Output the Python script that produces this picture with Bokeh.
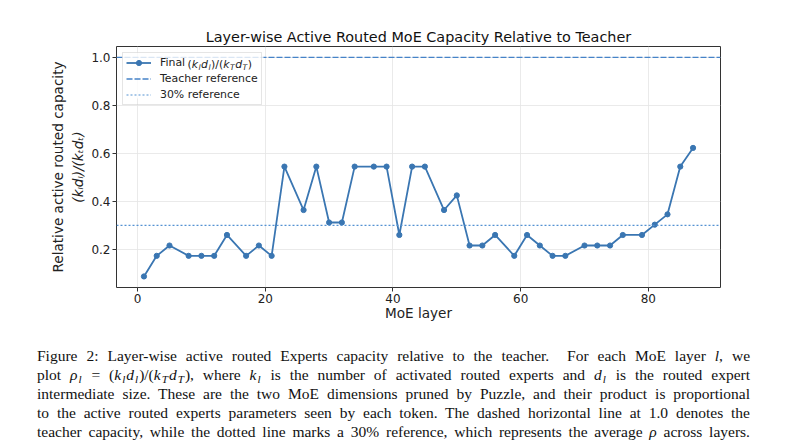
import math
from bokeh.plotting import figure
from bokeh.models import (Range1d, FixedTicker, PrintfTickFormatter, Span, Legend,
                          LegendItem, Label, Div, Title, BoxAnnotation)
from bokeh.layouts import column
from bokeh.embed import file_html
from bokeh.resources import INLINE

# MoE layer indices and the routed-capacity ratio (k_l d_l)/(k_T d_T) per layer
layers = [1, 3, 5, 8, 10, 12, 14, 17, 19, 21, 23, 26, 28, 30, 32, 34, 37, 39, 41, 43,
          45, 48, 50, 52, 54, 56, 59, 61, 63, 65, 67, 70, 72, 74, 76, 79, 81, 83, 85, 87]
ratios = [0.087, 0.173, 0.216, 0.173, 0.173, 0.173, 0.260, 0.173, 0.216, 0.173,
          0.545, 0.364, 0.545, 0.312, 0.312, 0.545, 0.545, 0.545, 0.260, 0.545,
          0.545, 0.364, 0.425, 0.216, 0.216, 0.260, 0.173, 0.260, 0.216, 0.173,
          0.173, 0.216, 0.216, 0.216, 0.260, 0.260, 0.303, 0.346, 0.545, 0.623]
teacher_ref = 1.0
pct30_ref = 0.3
x_ticks = [0, 20, 40, 60, 80]
y_ticks = [0.2, 0.4, 0.6, 0.8, 1.0]

TITLE = "Layer-wise Active Routed MoE Capacity Relative to Teacher"
XLABEL = "MoE layer"
YLABEL = "Relative active routed capacity"
YLABEL_MATH = "(kₗdₗ)/(kₜdₜ)"

LINE_C = "#3a76b2"
TEACH_C = "#4683c8"
DOT_C = "#5592d2"
FONT = "DejaVu Sans"

FW, FH = 604, 241  # frame size in px
xr = Range1d(-3.3, 91.3)
yr = Range1d(0.041, 1.0457)

p = figure(width=800, height=335, output_backend="svg", toolbar_location=None,
           x_range=xr, y_range=yr,
           min_border_left=116, min_border_right=80, min_border_top=46,
           min_border_bottom=48)
p.background_fill_color = "white"
p.border_fill_color = "white"
p.outline_line_color = "#333333"
p.outline_line_width = 1

p.title.text = TITLE
p.title.align = "center"
p.title.text_font = FONT
p.title.text_font_size = "14.4px"
p.title.text_font_style = "normal"
p.title.text_color = "#111111"
p.title.standoff = 4

for ax in (p.xaxis[0], p.yaxis[0]):
    ax.axis_line_color = None
    ax.major_tick_line_color = "#333333"
    ax.major_tick_out = 4
    ax.major_tick_in = 0
    ax.minor_tick_line_color = None
    ax.major_label_text_font = FONT
    ax.major_label_text_font_size = "12px"
    ax.major_label_text_color = "#222222"

p.xaxis.ticker = FixedTicker(ticks=x_ticks)
p.yaxis.ticker = FixedTicker(ticks=y_ticks)
p.yaxis.formatter = PrintfTickFormatter(format="%.1f")
p.xaxis.major_label_standoff = 2
p.yaxis.major_label_standoff = 2
p.xaxis.axis_label = XLABEL
p.xaxis.axis_label_text_font = FONT
p.xaxis.axis_label_text_font_size = "13.6px"
p.xaxis.axis_label_text_font_style = "normal"
p.xaxis.axis_label_text_color = "#222222"
p.xaxis.axis_label_standoff = -1

# two-line y label: math line next to the axis, text line outside it
p.add_layout(Title(text=YLABEL_MATH, align="center", text_font=FONT,
                   text_font_size="13.6px", text_font_style="italic",
                   text_color="#222222", standoff=5), "left")
p.add_layout(Title(text=YLABEL, align="center", text_font=FONT,
                   text_font_size="13.6px", text_font_style="normal",
                   text_color="#222222", standoff=0), "left")

p.xgrid.ticker = FixedTicker(ticks=x_ticks)
p.ygrid.ticker = FixedTicker(ticks=y_ticks)
for g in (p.xgrid[0], p.ygrid[0]):
    g.grid_line_color = "#e4e4e4"
    g.grid_line_width = 0.8

DASH = "6 2"
DOT = "2 2"

# reference lines
p.add_layout(Span(location=teacher_ref, dimension="width", line_color=TEACH_C,
                  line_width=1.3, line_dash=DASH))
p.add_layout(Span(location=pct30_ref, dimension="width", line_color=DOT_C,
                  line_width=1.2, line_dash=DOT))

# per-layer ratio
r_line = p.line(layers, ratios, line_color=LINE_C, line_width=1.8)
r_pts = p.scatter(layers, ratios, size=5.2, fill_color=LINE_C, line_color=LINE_C)

# renderers that only carry the reference-line styles into the legend
r_teach = p.line(x=[0], y=[math.nan], line_color=TEACH_C, line_width=1.3,
                 line_dash=DASH)
r_pct = p.line(x=[0], y=[math.nan], line_color=DOT_C, line_width=1.2,
               line_dash=DOT)


def px_to_x(px):
    return xr.start + px * (xr.end - xr.start) / FW


def px_to_y(px):
    return yr.start + px * (yr.end - yr.start) / FH


# translucent legend panel (white veil over the reference line)
p.add_layout(BoxAnnotation(left=px_to_x(6), right=px_to_x(147),
                           top=px_to_y(FH - 6), bottom=px_to_y(FH - 52),
                           fill_color="white", fill_alpha=0.8, line_color=None))

legend = Legend(items=[LegendItem(label="Final", renderers=[r_line, r_pts]),
                       LegendItem(label="Teacher reference", renderers=[r_teach]),
                       LegendItem(label="30% reference", renderers=[r_pct])],
                location="top_left", margin=6, padding=3, spacing=3,
                glyph_width=25, glyph_height=13, label_height=13,
                label_standoff=9, label_text_font=FONT,
                label_text_font_size="10.9px", label_text_color="#222222",
                border_line_color="#cccccc", border_line_width=1,
                background_fill_color="white", background_fill_alpha=0)
p.add_layout(legend, "center")

# approximate advance widths (em) for the legend math run
ADV = {"(": 0.390, ")": 0.390, "/": 0.337, "k": 0.579, "d": 0.635, "l": 0.278,
       "T": 0.611}
MATH = [("(", "n"), ("k", "i"), ("l", "s"), ("d", "i"), ("l", "s"), (")", "n"),
        ("/", "n"), ("(", "n"), ("k", "i"), ("T", "s"), ("d", "i"), ("T", "s"),
        (")", "n")]


def add_math(start, mid, size):
    """Lay out (k_l d_l)/(k_T d_T) piece by piece inside the frame."""
    base = mid - 0.346 * size
    pos = start
    for ch, kind in MATH:
        s = size * 0.7 if kind == "s" else size
        off = 0.2 * size if kind == "s" else 0.0
        style = "normal" if kind == "n" else "italic"
        p.add_layout(Label(x=pos, y=base - off, x_units="screen", y_units="screen",
                           text=ch, text_font=FONT, text_font_size=f"{s:.2f}px",
                           text_font_style=style, text_color="#222222",
                           text_align="left", text_baseline="alphabetic",
                           level="overlay"))
        pos += ADV[ch] * s + (0.05 * s if kind != "n" else 0)


# legend math after "Final "
add_math(71.0, 226.3, 10.9)

SUB = '<sub style="font-size:72%;vertical-align:-0.3em;margin:0 1px 0 1px;">'
caption_lines = [
    "Figure 2: Layer-wise active routed Experts capacity relative to the teacher. &nbsp;For each MoE layer <i>l</i>, we",
    f"plot <i>&rho;</i>{SUB}<i>l</i></sub> = (<i>k</i>{SUB}<i>l</i></sub><i>d</i>{SUB}<i>l</i></sub>)/(<i>k</i>{SUB}<i>T</i></sub><i>d</i>{SUB}<i>T</i></sub>), where <i>k</i>{SUB}<i>l</i></sub> is the number of activated routed experts and <i>d</i>{SUB}<i>l</i></sub> is the routed expert",
    "intermediate size. These are the two MoE dimensions pruned by Puzzle, and their product is proportional",
    "to the active routed experts parameters seen by each token. The dashed horizontal line at 1.0 denotes the",
    "teacher capacity, while the dotted line marks a 30% reference, which represents the average <i>&rho;</i> across layers.",
]
line_html = "".join(
    '<div style="display:block;width:713px;text-align:justify;'
    f'text-align-last:justify;height:19px;white-space:normal;">{t}</div>'
    for t in caption_lines)
caption = Div(text=line_html, width=800, height=110,
              styles={"padding-left": "37px", "padding-top": "11px",
                      "box-sizing": "border-box", "font-family": "'Liberation Serif'",
                      "font-size": "15.5px", "line-height": "19px", "color": "#111"})
caption.margin = (0, 0, 0, 0)

layout = column(p, caption, spacing=0)
open("out.html", "w").write(file_html(layout, INLINE))
